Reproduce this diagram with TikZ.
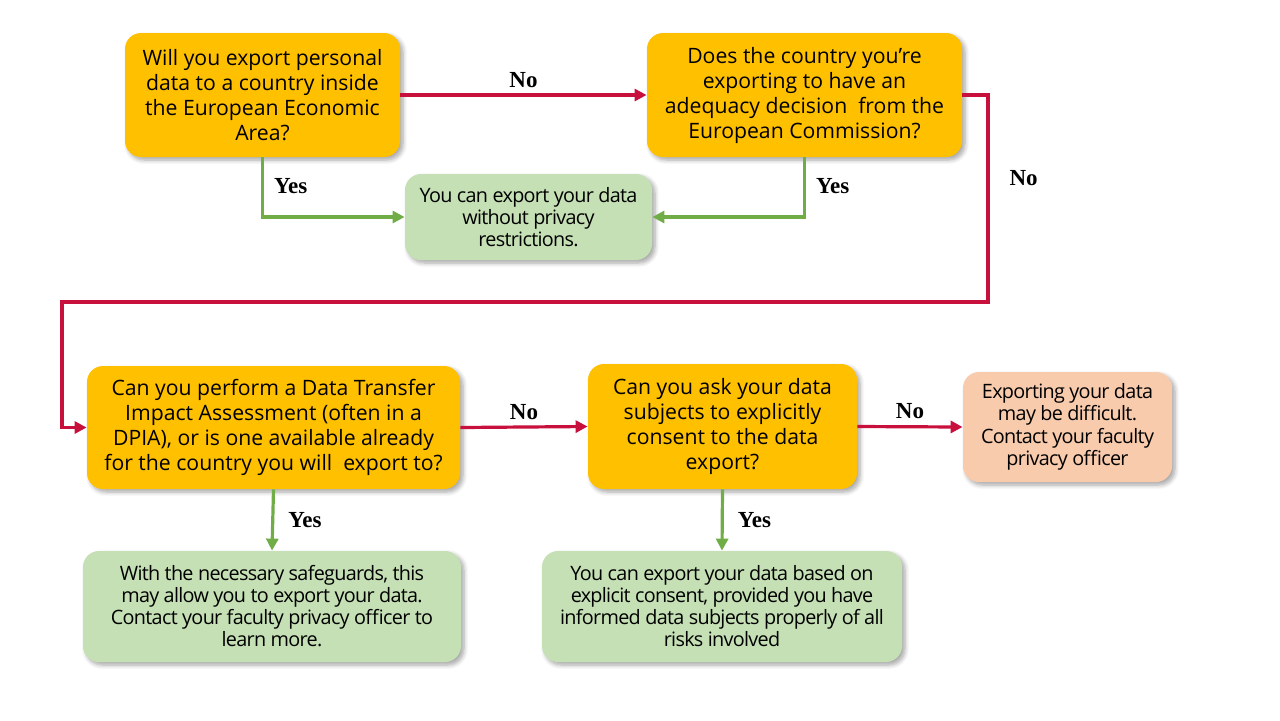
\documentclass[tikz,border=0pt]{standalone}
\usepackage{fontspec}
\setmainfont{Open Sans}
\newfontfamily\labelfont{Liberation Serif}
\newfontfamily\noteface{Open Sans}[LetterSpace=-3.5]
\usepackage{tikz}
\usetikzlibrary{arrows.meta,calc,positioning,shadows.blur}

\definecolor{askorange}{HTML}{FFC000}
\definecolor{okgreen}{HTML}{C5E0B4}
\definecolor{warnpeach}{HTML}{F8CBAD}
\definecolor{nored}{HTML}{C8103C}
\definecolor{yesgreen}{HTML}{70AD47}

\tikzset{
  box/.style={rounded corners=8pt, align=center, inner sep=2pt,
    blur shadow={shadow xshift=1.5pt, shadow yshift=-1.5pt,
      shadow blur steps=6, shadow opacity=35}},
  question/.style={box, fill=askorange,
    font=\fontsize{10.6}{12.5}\selectfont},
  answer/.style={box, fill=okgreen,
    font=\noteface\fontsize{9.9}{11}\selectfont},
  warning/.style={box, fill=warnpeach,
    font=\noteface\fontsize{9.9}{11.2}\selectfont},
  noline/.style={draw=nored, line width=1.6pt,
    -{Triangle[length=6pt,width=6pt]}},
  yesline/.style={draw=yesgreen, line width=1.6pt,
    -{Triangle[length=6pt,width=6pt]}},
  tag/.style={font=\labelfont\bfseries\fontsize{11.5}{12}\selectfont,
    inner sep=1pt}
}

\begin{document}
\begin{tikzpicture}[x=0.5pt, y=-0.5pt]
  % Canvas (pixel grid of the slide)
  \useasboundingbox (0,0) rectangle (1280,720);

  % Questions
  \node[question, minimum width=137.5pt, minimum height=62pt]
    (eea) at (262.5,95)
    {Will you export personal\\ data to a country inside\\
     the European Economic\\ Area?};
  \node[question, minimum width=157.5pt, minimum height=62pt]
    (adequacy) at (804.5,95)
    {Does the country you’re\\ exporting to have an\\
     adequacy decision~ from the\\ European Commission?};
  \node[question, minimum width=186.5pt, minimum height=61.5pt]
    (dtia) at (273.5,427.5)
    {Can you perform a Data Transfer\\ Impact Assessment (often in a\\
     DPIA), or is one available already\\ for the country you will~ export to?};
  \node[question, minimum width=134.5pt, minimum height=62.5pt]
    (consent) at (722.5,426.5)
    {Can you ask your data\\ subjects to explicitly\\
     consent to the data\\ export?};

  % Outcomes
  \node[answer, minimum width=123.5pt, minimum height=43pt]
    (free) at (528.5,217)
    {You can export your data\\ without privacy\\ restrictions.};
  \node[answer, minimum width=189pt, minimum height=55.5pt]
    (safeguards) at (272,606.5)
    {With the necessary safeguards, this\\ may allow you to export your data.\\
     Contact your faculty privacy officer to\\ learn more.};
  \node[answer, minimum width=180pt, minimum height=55.5pt]
    (explicit) at (722,606.5)
    {You can export your data based on\\ explicit consent, provided you have\\
     informed data subjects properly of all\\ risks involved};
  \node[warning, minimum width=104.5pt, minimum height=55pt]
    (difficult) at (1067.5,427)
    {Exporting your data\\ may be difficult.\\
     Contact your faculty\\ privacy officer};

  % Bends of the long "No" line
  \coordinate (bendR) at (988,302);
  \coordinate (bendL) at (62,302);

  % No branches
  \draw[noline] (eea.east) -- (adequacy.west)
    node[tag, midway, above=2pt] {No};
  \draw[noline] (adequacy.east) -| (bendR)
    node[tag, pos=0.7, right=9pt] {No}
    -- (bendL) |- (dtia.west);
  \draw[noline] (dtia.east) -- (consent.west)
    node[tag, midway, above=2pt] {No};
  \draw[noline] (consent.east) -- (difficult.west)
    node[tag, midway, above=2pt] {No};

  % Yes branches
  \draw[yesline] (eea.south) |- (free.west)
    node[tag, pos=0.24, right=4pt] {Yes};
  \draw[yesline] (adequacy.south) |- (free.west -| free.east)
    node[tag, pos=0.24, right=4pt] {Yes};
  \draw[yesline] (dtia.south) -- (safeguards.north)
    node[tag, midway, right=6pt] {Yes};
  \draw[yesline] (consent.south) -- (explicit.north)
    node[tag, midway, right=6pt] {Yes};
\end{tikzpicture}
\end{document}
